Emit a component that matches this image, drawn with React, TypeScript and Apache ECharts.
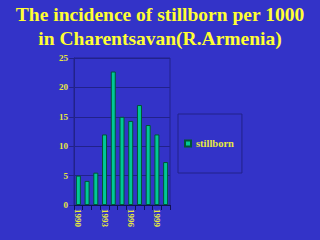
import React, { useEffect, useRef } from "react";
import * as echarts from "echarts";

const years = ["1990", "1991", "1992", "1993", "1994", "1995", "1996", "1997", "1998", "1999", "2000"];
const stillborn = [5, 4.1, 5.5, 12, 22.7, 15, 14.3, 17, 13.6, 12, 7.3];
const yTicks = [0, 5, 10, 15, 20, 25];

export default function App() {
  const ref = useRef<HTMLDivElement>(null);
  useEffect(() => {
    const chart = echarts.init(ref.current!, null, { renderer: "svg" });
    const serif = "Liberation Serif";
    chart.setOption({
      animation: false,
      backgroundColor: "#3333c8",
      title: {
        text: "The incidence of stillborn per 1000\nin Charentsavan(R.Armenia)",
        left: "center",
        top: 0,
        padding: [2, 0, 0, 4],
        textStyle: { color: "#ffff33", fontFamily: serif, fontWeight: "bold", fontSize: 19.5, lineHeight: 24 },
      },
      legend: {
        orient: "vertical",
        left: 178,
        top: 114,
        width: 64,
        height: 59,
        padding: [24, 8, 24, 6],
        borderColor: "#22228a",
        borderWidth: 1,
        itemWidth: 6,
        itemHeight: 6,
        itemGap: 4,
        textStyle: { color: "#e8e840", fontFamily: serif, fontWeight: "bold", fontSize: 10.5 },
        data: [{ name: "stillborn", icon: "rect" }],
      },
      grid: { left: 74, right: 150, top: 58, bottom: 35, show: true, borderColor: "#22228a", borderWidth: 1 },
      xAxis: {
        type: "category",
        data: years,
        axisLine: { lineStyle: { color: "#111155", width: 1 } },
        axisTick: { show: true, interval: 0, lineStyle: { color: "#111155" } },
        axisLabel: {
          interval: 2,
          rotate: -90,
          color: "#e8e840",
          fontFamily: serif,
          fontWeight: "bold",
          fontSize: 9,
          margin: 4,
        },
      },
      yAxis: {
        type: "value",
        min: yTicks[0],
        max: yTicks[yTicks.length - 1],
        interval: 5,
        axisLine: { show: true, lineStyle: { color: "#22228a" } },
        axisTick: { show: true, lineStyle: { color: "#22228a" } },
        splitLine: { lineStyle: { color: "#22228a", width: 1 } },
        axisLabel: { color: "#e8e840", fontFamily: serif, fontWeight: "bold", fontSize: 9, margin: 6 },
      },
      series: [
        {
          name: "stillborn",
          type: "bar",
          data: stillborn,
          barWidth: 5,
          itemStyle: { color: "#00c896", borderColor: "#005533", borderWidth: 1 },
        },
      ],
    });
    return () => chart.dispose();
  }, []);
  return <div ref={ref} style={{ width: 320, height: 240, position: "absolute", left: 0, top: 0 }} />;
}
